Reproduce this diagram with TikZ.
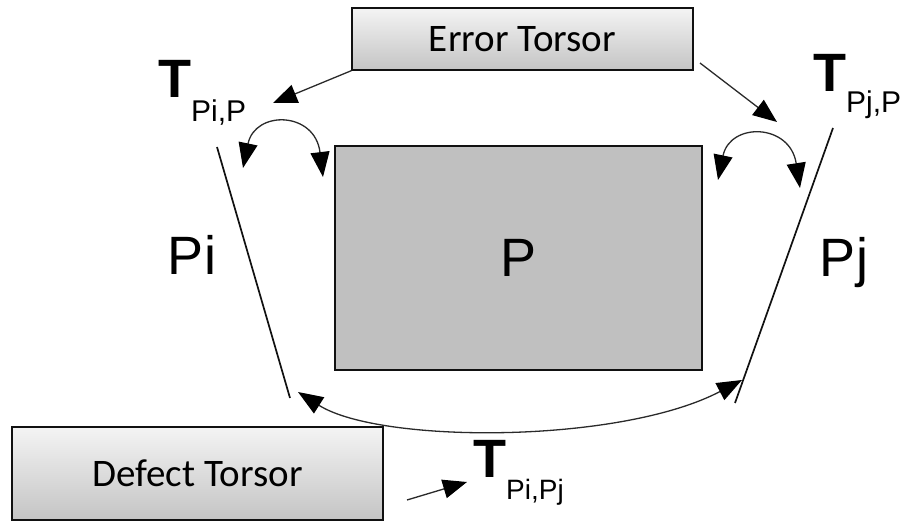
\documentclass[tikz,border=0pt]{standalone}
\usepackage{fontspec}
\usetikzlibrary{arrows.meta,calc,positioning}
\newfontfamily\boxfont{Carlito}
\newfontfamily\labfont{Liberation Sans}
\definecolor{ink}{HTML}{111111}
\definecolor{wire}{HTML}{2A2A2A}
\definecolor{partfill}{HTML}{C0C0C0}
\definecolor{shadetop}{HTML}{F4F4F4}
\definecolor{shadebot}{HTML}{C4C4C4}
\tikzset{
  torsorbox/.style={draw=ink,line width=1.4pt,top color=shadetop,bottom color=shadebot,font=\boxfont\fontsize{39}{39}\selectfont,inner sep=0pt},
  twohead/.style={{Triangle[length=25pt,width=19pt,color=black]}-{Triangle[length=25pt,width=19pt,color=black]},line width=1.3pt,draw=wire},
  onehead/.style={-{Triangle[length=24pt,width=19pt,color=black]},line width=1.3pt,draw=wire},
  surface/.style={line width=1.7pt,draw=ink},
  partname/.style={font=\labfont\fontsize{54}{54}\selectfont,inner sep=0pt},
  tlabel/.style={font=\labfont\fontsize{54}{54}\selectfont\bfseries,inner sep=0pt,anchor=base west}
}
\newcommand{\torsorsub}[3]{T\raisebox{-#1pt}{\mdseries\fontsize{#2}{#2}\selectfont #3}}

\begin{document}
\begin{tikzpicture}[x=1pt,y=-1pt]
  \useasboundingbox (0,0) rectangle (906,521);

  % torsor boxes
  \node[torsorbox,minimum width=341pt,minimum height=62pt] (errbox) at (522.5,39) {Error Torsor};
  \node[torsorbox,minimum width=371pt,minimum height=93pt] (defbox) at (197.5,473.5) {Defect Torsor};

  % part and its two surfaces
  \node[draw=ink,line width=1.4pt,fill=partfill,minimum width=367pt,minimum height=224pt,partname] (part) at (518.5,258) {P};
  \node[partname,anchor=base] (pi) at (192,275) {Pi};
  \node[partname,anchor=base] (pj) at (844,277) {Pj};

  \coordinate (piTop) at (217,147);
  \coordinate (piBot) at (290,398);
  \coordinate (pjTop) at (833,128);
  \coordinate (pjBot) at (735,403);
  \draw[surface] (piTop) -- (piBot);
  \draw[surface] (pjTop) -- (pjBot);

  % torsor labels
  \node[tlabel] (tPiP) at (158,98) {\torsorsub{24}{30}{Pi,P}};
  \node[tlabel] (tPjP) at (813,92) {\torsorsub{21}{30}{Pj,P}};
  \node[tlabel] (tPiPj) at (473,478) {\torsorsub{22}{28}{Pi,Pj}};

  % error torsor arrows
  \coordinate (tipPiP) at (273,103);
  \coordinate (errR) at (700,63);
  \coordinate (tipPjP) at (777,122);
  \draw[onehead] (errbox.south west) -- (tipPiP);
  \draw[onehead] (errR) -- (tipPjP);

  % defect torsor arrow
  \coordinate (defR) at (407,500);
  \coordinate (tipPiPj) at (467,482);
  \draw[onehead] (defR) -- (tipPiPj);

  % relative torsors
  \coordinate (a1) at (243,168);
  \coordinate (a2) at (323,177);
  \coordinate (b1) at (718,180);
  \coordinate (b2) at (800,188);
  \coordinate (c1) at (298,392);
  \coordinate (c2) at (742,380);
  \draw[twohead] (a1) .. controls (255,110) and (315,111) .. (a2);
  \draw[twohead] (b1) .. controls (730,122) and (790,123) .. (b2);
  \draw[twohead] (c1) .. controls (380,444) and (620,444) .. (c2);
\end{tikzpicture}
\end{document}
